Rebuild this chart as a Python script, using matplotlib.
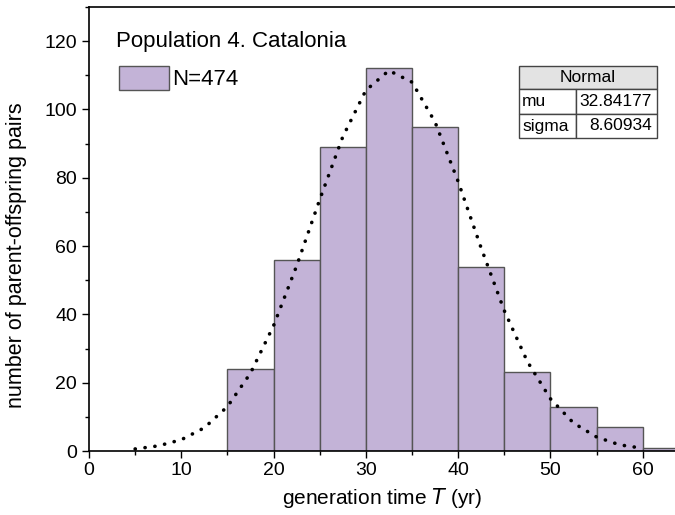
import matplotlib.pyplot as plt
from matplotlib.patches import Rectangle
from matplotlib.ticker import MultipleLocator

plt.rcParams['font.family'] = ['Liberation Sans', 'DejaVu Sans']

# гистограмма: левые края интервалов и количества пар
bin_left = [15, 20, 25, 30, 35, 40, 45, 50, 55, 60]
counts = [24, 56, 89, 112, 95, 54, 23, 13, 7, 1]
bin_width = 5

# подогнанная нормальная кривая
fit_x = [5, 7.5, 10, 12.5, 15, 17.5, 20, 22.5, 25, 27.5, 30, 32.5,
         35, 37.5, 40, 42.5, 45, 47.5, 50, 52.5, 55, 57.5, 60]
fit_y = [0.6, 1.5, 3.3, 6.8, 13.0, 22.8, 36.7, 54.2, 73.6, 92.0, 105.6, 111.4,
         108.0, 96.3, 78.9, 59.4, 41.1, 26.2, 15.3, 8.2, 4.1, 1.8, 0.8]

table_rows = [['mu', '32.84177'], ['sigma', '8.60934']]
n_total = 474

W, H = 675, 515
fig = plt.figure(figsize=(W / 100, H / 100), dpi=100)
ax = fig.add_axes([89 / W, 1 - 451 / H, 1 - 89 / W, (451 - 7) / H])

bar_color = '#c3b3d7'
bars = ax.bar(bin_left, counts, width=bin_width, align='edge',
              color=bar_color, edgecolor='#555555', linewidth=1.0)
ax.plot(fit_x, fit_y, color='black', linewidth=2.6,
        linestyle=(0, (0.05, 2.7)), dash_capstyle='round')

ax.set_xlim(0, 63.5)
ax.set_ylim(0, 130)
ax.xaxis.set_major_locator(MultipleLocator(10))
ax.xaxis.set_minor_locator(MultipleLocator(5))
ax.yaxis.set_major_locator(MultipleLocator(20))
ax.yaxis.set_minor_locator(MultipleLocator(10))
ax.tick_params(which='major', direction='out', length=5, width=1, labelsize=14)
ax.tick_params(axis='x', which='major', pad=3)
ax.tick_params(which='minor', direction='out', length=3, width=1)
ax.spines['right'].set_visible(False)
for s in ['left', 'bottom', 'top']:
    ax.spines[s].set_linewidth(1.2)

ax.set_xlabel('generation time $\\it{T}$ (yr)', fontsize=15, labelpad=5)
ax.set_ylabel('number of parent-offspring pairs', fontsize=15.5)
ax.yaxis.set_label_coords(-0.105, 0.44)

# заголовок и легенда
fig.text(116 / W, 1 - 47 / H, 'Population 4. Catalonia', fontsize=16, va='baseline')
fig.patches.append(Rectangle((119 / W, 1 - 90 / H), 50 / W, 24 / H,
                             transform=fig.transFigure, facecolor=bar_color,
                             edgecolor='#555555', linewidth=1.0))
fig.text(172 / W, 1 - 85 / H, 'N=%d' % n_total, fontsize=16, va='baseline')

# таблица с параметрами
x0, xm, x1 = 519, 576, 657
rows_y = [66, 89, 114, 138]
def fx(px):
    return px / W
def fy(py):
    return 1 - py / H
fig.patches.append(Rectangle((fx(x0), fy(rows_y[1])), fx(x1) - fx(x0),
                             fy(rows_y[0]) - fy(rows_y[1]),
                             transform=fig.transFigure, facecolor='#e3e3e3',
                             edgecolor='#444444', linewidth=1.0))
for i in range(1, 3):
    fig.patches.append(Rectangle((fx(x0), fy(rows_y[i + 1])), fx(xm) - fx(x0),
                                 fy(rows_y[i]) - fy(rows_y[i + 1]),
                                 transform=fig.transFigure, facecolor='white',
                                 edgecolor='#444444', linewidth=1.0))
    fig.patches.append(Rectangle((fx(xm), fy(rows_y[i + 1])), fx(x1) - fx(xm),
                                 fy(rows_y[i]) - fy(rows_y[i + 1]),
                                 transform=fig.transFigure, facecolor='white',
                                 edgecolor='#444444', linewidth=1.0))
fig.text(fx((x0 + x1) / 2), fy((rows_y[0] + rows_y[1]) / 2), 'Normal',
         fontsize=12.5, ha='center', va='center')
for i, (name, val) in enumerate(table_rows):
    yc = fy((rows_y[i + 1] + rows_y[i + 2]) / 2)
    fig.text(fx(x0 + 3), yc, name, fontsize=12.5, ha='left', va='center')
    fig.text(fx(x1 - 5), yc, val, fontsize=12.5, ha='right', va='center')

plt.savefig('out.png', dpi=100)
